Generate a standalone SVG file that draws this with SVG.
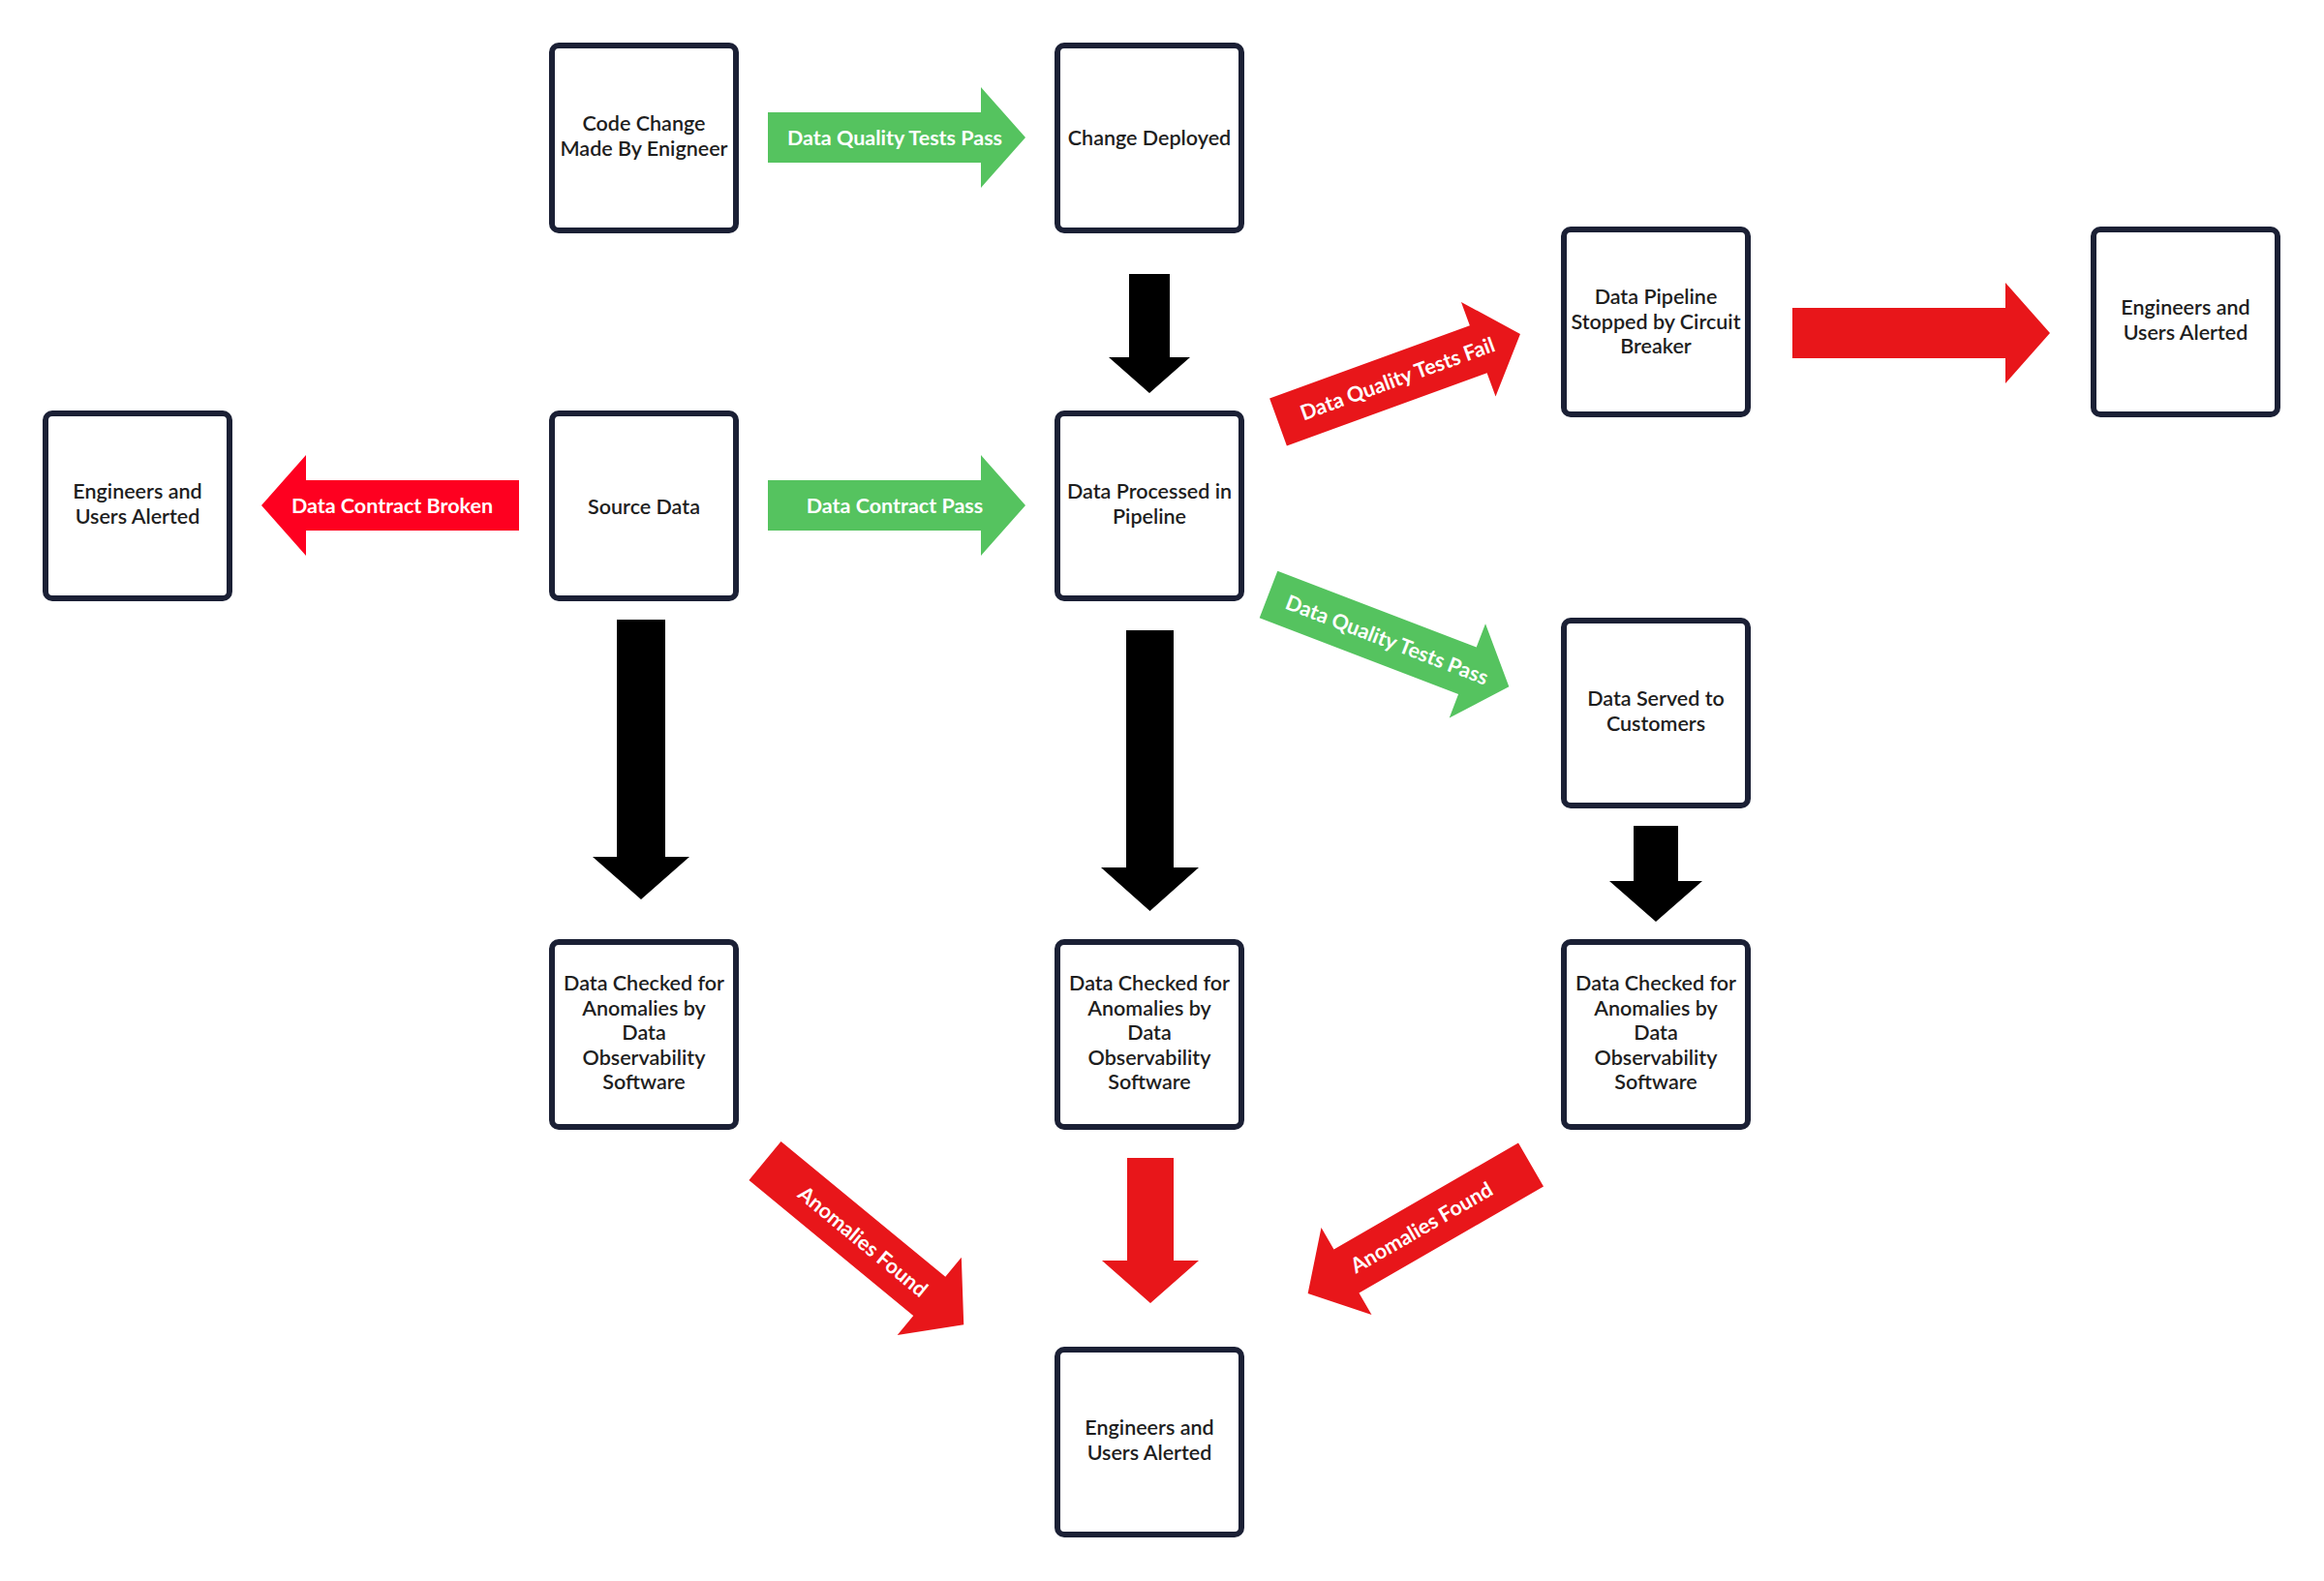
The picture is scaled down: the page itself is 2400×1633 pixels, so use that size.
<svg xmlns="http://www.w3.org/2000/svg" width="2400" height="1633" viewBox="0 0 2400 1633">
<defs>
<style>
.box{fill:#ffffff;stroke:#1b2035;stroke-width:6}
.lbl{font-family:Lato,"Liberation Sans",sans-serif;font-size:21.5px;font-weight:600;fill:#1e1e1e;text-anchor:middle}
.al{font-family:Lato,"Liberation Sans",sans-serif;font-size:21.5px;font-weight:700;fill:#ffffff;text-anchor:middle}
.green{fill:#55c35f}
.red{fill:#e8161a}
.red2{fill:#fe0020}
.black{fill:#000000}
</style>
<path id="arr" d="M0,-26 H220 V-52 L266,0 L220,52 V26 H0 Z"/>
</defs>
<rect width="2400" height="1633" fill="#ffffff"/>

<g id="connectors">
  <g transform="translate(793,142)"><use href="#arr" class="green"/><text class="al" x="131" y="0" dy="0.35em">Data Quality Tests Pass</text></g>
  <g transform="translate(793,522)"><use href="#arr" class="green"/><text class="al" x="131" y="0" dy="0.35em">Data Contract Pass</text></g>
  <use href="#arr" class="red2" transform="translate(536,522) rotate(180)"/>
  <text class="al" x="405" y="522" dy="0.35em">Data Contract Broken</text>
  <use href="#arr" class="red" transform="translate(1851,344)"/>
  <g transform="translate(1320,436) rotate(-20)"><use href="#arr" class="red"/><text class="al" x="131" y="0" dy="0.35em">Data Quality Tests Fail</text></g>
  <g transform="translate(1310,614) rotate(21)"><use href="#arr" class="green"/><text class="al" x="131" y="0" dy="0.35em">Data Quality Tests Pass</text></g>
  <g transform="translate(790,1199) rotate(39.5)"><use href="#arr" class="red"/><text class="al" x="131" y="0" dy="0.35em">Anomalies Found</text></g>
  <use href="#arr" class="red" transform="translate(1581,1203) rotate(150)"/>
  <text class="al" transform="translate(1468,1268) rotate(-30)" x="0" y="0" dy="0.35em">Anomalies Found</text>
  <path class="black" d="M1166,283 H1208 V369 H1229 L1187,406 L1145,369 H1166 Z"/>
  <path class="black" d="M637,640 H687 V885 H712 L662,929 L612,885 H637 Z"/>
  <path class="black" d="M1163,651 H1212 V896 H1238 L1187.5,941 L1137,896 H1163 Z"/>
  <path class="black" d="M1687,853 H1733 V910 H1758 L1710,952 L1662,910 H1687 Z"/>
  <path class="red" d="M1164,1196 H1212 V1302 H1238 L1188,1346 L1138,1302 H1164 Z"/>
</g>

<g id="code-change"><rect class="box" x="570" y="47" width="190" height="191" rx="7"/>
<text class="lbl" x="665" y="135">Code Change</text><text class="lbl" x="665" y="160.5">Made By Enigneer</text></g>

<g id="change-deployed"><rect class="box" x="1092" y="47" width="190" height="191" rx="7"/>
<text class="lbl" x="1187" y="150">Change Deployed</text></g>

<g id="pipeline-stopped"><rect class="box" x="1615" y="237" width="190" height="191" rx="7"/>
<text class="lbl" x="1710" y="314">Data Pipeline</text><text class="lbl" x="1710" y="339.5">Stopped by Circuit</text><text class="lbl" x="1710" y="365">Breaker</text></g>

<g id="alert-right"><rect class="box" x="2162" y="237" width="190" height="191" rx="7"/>
<text class="lbl" x="2257" y="325">Engineers and</text><text class="lbl" x="2257" y="350.5">Users Alerted</text></g>

<g id="alert-left"><rect class="box" x="47" y="427" width="190" height="191" rx="7"/>
<text class="lbl" x="142" y="515">Engineers and</text><text class="lbl" x="142" y="540.5">Users Alerted</text></g>

<g id="source-data"><rect class="box" x="570" y="427" width="190" height="191" rx="7"/>
<text class="lbl" x="665" y="531">Source Data</text></g>

<g id="data-processed"><rect class="box" x="1092" y="427" width="190" height="191" rx="7"/>
<text class="lbl" x="1187" y="515">Data Processed in</text><text class="lbl" x="1187" y="540.5">Pipeline</text></g>

<g id="data-served"><rect class="box" x="1615" y="641" width="190" height="191" rx="7"/>
<text class="lbl" x="1710" y="729">Data Served to</text><text class="lbl" x="1710" y="754.5">Customers</text></g>

<g id="checked-1"><rect class="box" x="570" y="973" width="190" height="191" rx="7"/>
<text class="lbl" x="665" y="1023">Data Checked for</text><text class="lbl" x="665" y="1048.5">Anomalies by</text><text class="lbl" x="665" y="1074">Data</text><text class="lbl" x="665" y="1099.5">Observability</text><text class="lbl" x="665" y="1125">Software</text></g>

<g id="checked-2"><rect class="box" x="1092" y="973" width="190" height="191" rx="7"/>
<text class="lbl" x="1187" y="1023">Data Checked for</text><text class="lbl" x="1187" y="1048.5">Anomalies by</text><text class="lbl" x="1187" y="1074">Data</text><text class="lbl" x="1187" y="1099.5">Observability</text><text class="lbl" x="1187" y="1125">Software</text></g>

<g id="checked-3"><rect class="box" x="1615" y="973" width="190" height="191" rx="7"/>
<text class="lbl" x="1710" y="1023">Data Checked for</text><text class="lbl" x="1710" y="1048.5">Anomalies by</text><text class="lbl" x="1710" y="1074">Data</text><text class="lbl" x="1710" y="1099.5">Observability</text><text class="lbl" x="1710" y="1125">Software</text></g>

<g id="alert-bottom"><rect class="box" x="1092" y="1394" width="190" height="191" rx="7"/>
<text class="lbl" x="1187" y="1482">Engineers and</text><text class="lbl" x="1187" y="1507.5">Users Alerted</text></g>
</svg>
